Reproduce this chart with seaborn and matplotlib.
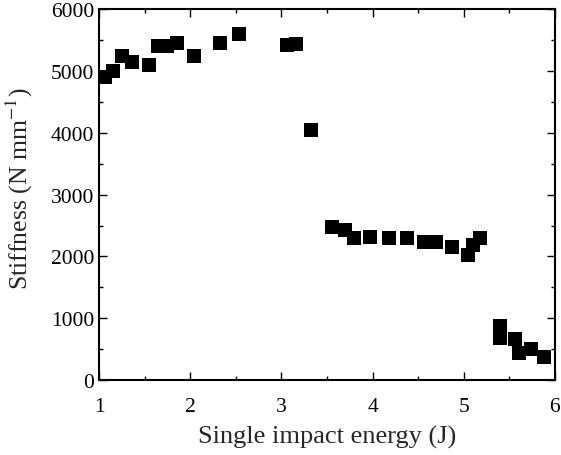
import matplotlib
matplotlib.use("Agg")
import matplotlib.pyplot as plt
import seaborn as sns
import pandas as pd
from matplotlib.ticker import MultipleLocator

energy = [1.07, 1.15, 1.25, 1.36, 1.545, 1.65, 1.75, 1.85, 2.04, 2.33, 2.535,
          3.06, 3.16, 3.33,
          3.56, 3.70, 3.80, 3.97, 4.18, 4.38, 4.57, 4.70, 4.87, 5.05, 5.10, 5.18,
          5.40, 5.40, 5.565, 5.61, 5.74, 5.88]
stiffness = [4900, 5000, 5250, 5150, 5100, 5400, 5400, 5450, 5250, 5450, 5600,
             5420, 5430, 4050,
             2480, 2430, 2290, 2320, 2290, 2290, 2240, 2240, 2160, 2030, 2190, 2300,
             870, 680, 670, 440, 500, 380]

df = pd.DataFrame({"energy": energy, "stiffness": stiffness})

sns.set_style("ticks")
plt.rcParams["font.family"] = ["Liberation Serif", "DejaVu Serif"]
plt.rcParams["mathtext.fontset"] = "stix"

fig = plt.figure(figsize=(5.61, 4.56), dpi=100)
ax = fig.add_axes([0.1765, 0.1645, 0.8125, 0.813])
sns.scatterplot(data=df, x="energy", y="stiffness", marker="s", color="black",
                s=92, linewidth=0, ax=ax)

ax.set_xlim(1, 6)
ax.set_ylim(0, 6000)
ax.xaxis.set_major_locator(MultipleLocator(1))
ax.xaxis.set_minor_locator(MultipleLocator(0.5))
ax.yaxis.set_major_locator(MultipleLocator(1000))
ax.yaxis.set_minor_locator(MultipleLocator(500))
ax.tick_params(which="both", direction="in", top=True, right=True, labelsize=15.5,
               width=1, colors="black")
ax.tick_params(which="major", length=6)
ax.tick_params(which="minor", length=3)
ax.tick_params(axis="x", pad=12)
for sp in ax.spines.values():
    sp.set_linewidth(1.5)
    sp.set_color("black")
ax.set_xlabel("Single impact energy (J)", fontsize=19, labelpad=7)
ax.set_ylabel("Stiffness (N mm$^{-1}$)", fontsize=18.5)
ax.yaxis.set_label_coords(-0.14, 0.52)

fig.savefig("out.png", dpi=100)
